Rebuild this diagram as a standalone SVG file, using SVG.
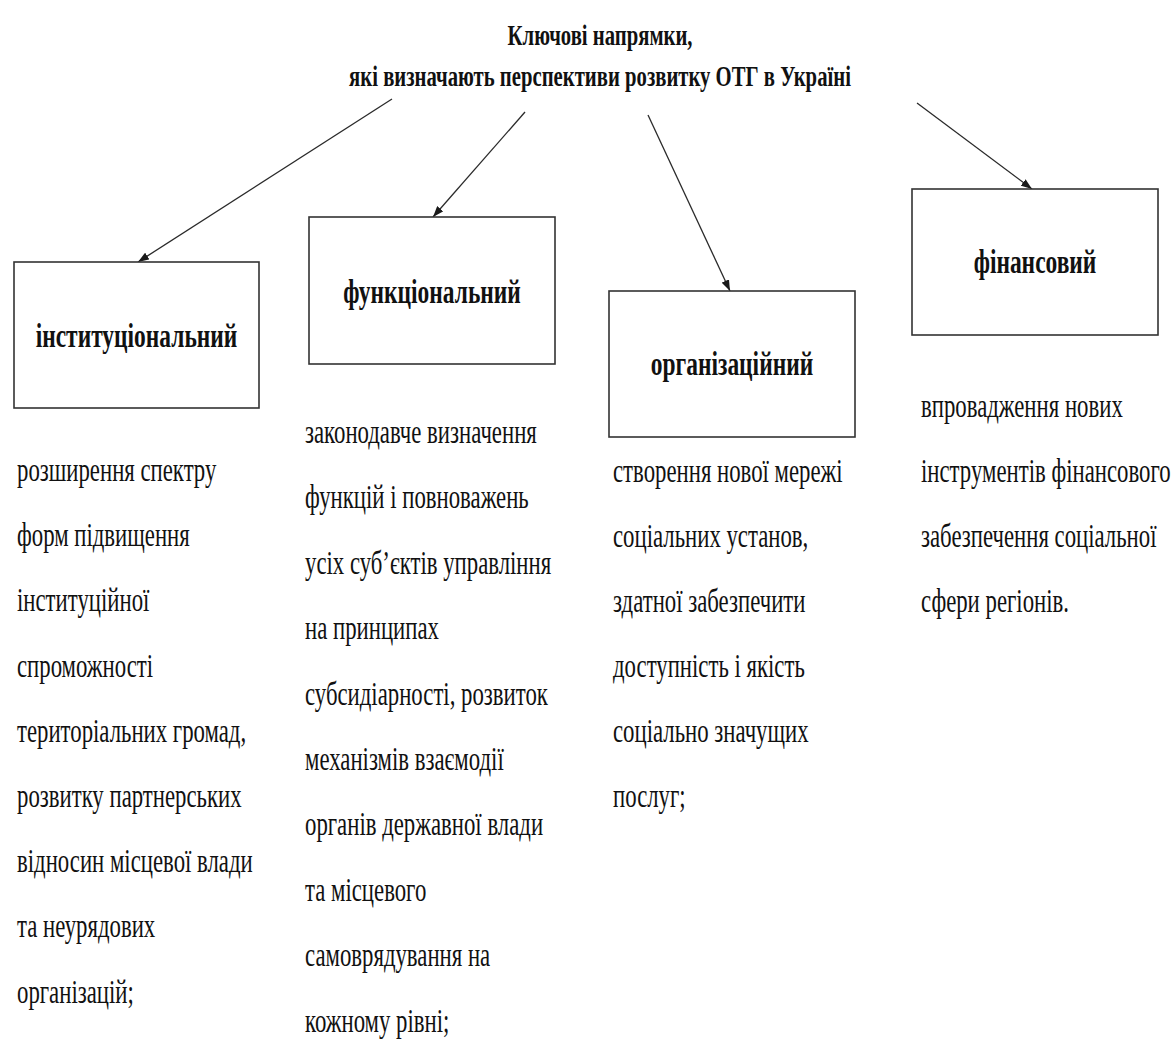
<svg xmlns="http://www.w3.org/2000/svg" width="1176" height="1040" viewBox="0 0 1176 1040">
<defs>
<marker id="ah" markerUnits="userSpaceOnUse" markerWidth="12" markerHeight="8" refX="11" refY="4" orient="auto">
<path d="M0,0 L11,4 L0,8 z" fill="#1a1a1a"/>
</marker>
<style>
.box{fill:#fff;stroke:#333;stroke-width:1.6}
.lbl{font-family:"Liberation Serif","Times New Roman",serif;font-weight:bold;font-size:34px;fill:#111;text-anchor:middle}
.ttl{font-family:"Liberation Serif","Times New Roman",serif;font-weight:bold;font-size:30px;fill:#111;text-anchor:middle}
.body{font-family:"Liberation Serif","Times New Roman",serif;font-size:33px;fill:#111}
.con{stroke:#2a2a2a;stroke-width:1.3;fill:none;marker-end:url(#ah)}
</style>
</defs>
<rect width="1176" height="1040" fill="#fff"/>
<g id="title" transform="translate(600 0) scale(0.69 1)">
<text class="ttl" x="0" y="45">Ключові напрямки,</text>
<text class="ttl" x="0" y="86">які визначають перспективи розвитку ОТГ в Україні</text>
</g>
<g id="connectors">
<line class="con" x1="392" y1="99" x2="138" y2="262"/>
<line class="con" x1="525" y1="112" x2="433" y2="217"/>
<line class="con" x1="648" y1="115" x2="730" y2="291"/>
<line class="con" x1="917" y1="103" x2="1032" y2="189"/>
</g>
<g id="node-institutional">
<rect class="box" x="14" y="262" width="245" height="146"/>
<text class="lbl" transform="translate(136.5 347) scale(0.69 1)" x="0" y="0">інституціональний</text>
</g>
<g id="node-functional">
<rect class="box" x="309" y="217" width="246" height="147"/>
<text class="lbl" transform="translate(432 303) scale(0.69 1)" x="0" y="0">функціональний</text>
</g>
<g id="node-organizational">
<rect class="box" x="609" y="291" width="246" height="146"/>
<text class="lbl" transform="translate(732 375) scale(0.69 1)" x="0" y="0">організаційний</text>
</g>
<g id="node-financial">
<rect class="box" x="912" y="189" width="246" height="146"/>
<text class="lbl" transform="translate(1035 273) scale(0.69 1)" x="0" y="0">фінансовий</text>
</g>
<g id="text-institutional" transform="translate(17 0) scale(0.69 1)">
<text class="body" x="0" y="481">розширення спектру</text>
<text class="body" x="0" y="546">форм підвищення</text>
<text class="body" x="0" y="611">інституційної</text>
<text class="body" x="0" y="677">спроможності</text>
<text class="body" x="0" y="742">територіальних громад,</text>
<text class="body" x="0" y="807">розвитку партнерських</text>
<text class="body" x="0" y="872">відносин місцевої влади</text>
<text class="body" x="0" y="937">та неурядових</text>
<text class="body" x="0" y="1003">організацій;</text>
</g>
<g id="text-functional" transform="translate(305 0) scale(0.69 1)">
<text class="body" x="0" y="443">законодавче визначення</text>
<text class="body" x="0" y="508">функцій і повноважень</text>
<text class="body" x="0" y="574">усіх суб’єктів управління</text>
<text class="body" x="0" y="639">на принципах</text>
<text class="body" x="0" y="705">субсидіарності, розвиток</text>
<text class="body" x="0" y="770">механізмів взаємодії</text>
<text class="body" x="0" y="835">органів державної влади</text>
<text class="body" x="0" y="901">та місцевого</text>
<text class="body" x="0" y="966">самоврядування на</text>
<text class="body" x="0" y="1032">кожному рівні;</text>
</g>
<g id="text-organizational" transform="translate(613 0) scale(0.69 1)">
<text class="body" x="0" y="482">створення нової мережі</text>
<text class="body" x="0" y="547">соціальних установ,</text>
<text class="body" x="0" y="612">здатної забезпечити</text>
<text class="body" x="0" y="677">доступність і якість</text>
<text class="body" x="0" y="742">соціально значущих</text>
<text class="body" x="0" y="807">послуг;</text>
</g>
<g id="text-financial" transform="translate(921 0) scale(0.69 1)">
<text class="body" x="0" y="417">впровадження нових</text>
<text class="body" x="0" y="482">інструментів фінансового</text>
<text class="body" x="0" y="547">забезпечення соціальної</text>
<text class="body" x="0" y="612">сфери регіонів.</text>
</g>
</svg>
